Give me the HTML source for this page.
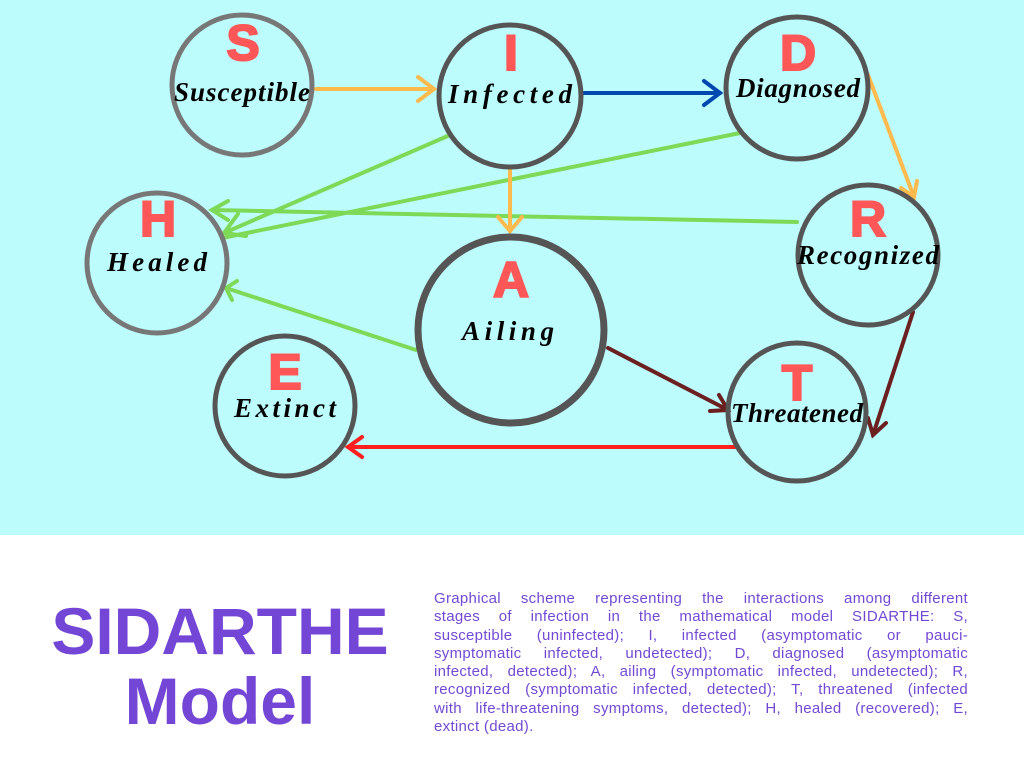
<!DOCTYPE html>
<html><head><meta charset="utf-8"><style>
body{margin:0;width:1024px;height:768px;overflow:hidden;background:#fff;font-family:"Liberation Sans",sans-serif}
#top{position:absolute;left:0;top:0;width:1024px;height:535px;background:#bdfcfc}
svg{position:absolute;left:0;top:0}
.t{position:absolute;left:20px;width:400px;text-align:center;color:#7446d6;font-weight:bold;font-size:66px;line-height:70px}
.c{position:absolute;left:434px;top:590px;width:534px;color:#7349d4;font-size:15px;line-height:18.3px;letter-spacing:0.3px}
.c div{text-align:justify;text-align-last:justify;white-space:nowrap;height:18.3px}
.c div.l{text-align-last:left}
</style></head><body>
<div id="top"></div>
<svg width="1024" height="535" viewBox="0 0 1024 535">
<g fill="none" stroke-width="4" stroke-linecap="round">
<g stroke="#7ed957">
<line x1="450" y1="135" x2="224" y2="233"/><path d="M238,214 L224,233 L246,236"/>
<line x1="740" y1="133" x2="222" y2="238"/>
<line x1="797" y1="222" x2="212" y2="210"/><path d="M228,201 L212,210 L228,220"/>
<line x1="416" y1="350" x2="226" y2="288"/><path d="M237,281 L226,288 L232,300"/>
</g>
<g stroke="#ffba4d">
<line x1="316" y1="89" x2="434" y2="89"/><path d="M418,77 L434,89 L418,101"/>
<line x1="510" y1="170" x2="510" y2="231"/><path d="M498,217 L510,231 L522,217"/>
<line x1="868" y1="75" x2="914" y2="197"/><path d="M901,188 L914,197 L917,181"/>
</g>
<line stroke="#0048b0" x1="584" y1="93" x2="720" y2="93"/><path stroke="#0048b0" d="M704,81 L720,93 L704,105"/>
<g stroke="#6b1f1f">
<line x1="608" y1="348" x2="728" y2="410"/><path d="M710,411 L728,410 L719,395"/>
<line x1="913" y1="312" x2="873" y2="435"/><path d="M868,418 L873,435 L886,423"/>
</g>
<line stroke="#ff1f1f" x1="738" y1="447" x2="348" y2="447"/><path stroke="#ff1f1f" d="M362,437 L348,447 L362,457"/>
</g>
<g fill="none" stroke-width="5">
<circle cx="242" cy="85" r="70" stroke="#777"/>
<circle cx="510" cy="96" r="71" stroke="#555"/>
<circle cx="797" cy="88" r="71" stroke="#555"/>
<circle cx="157" cy="263" r="70" stroke="#777"/>
<circle cx="868" cy="255" r="70" stroke="#555"/>
<circle cx="511" cy="330" r="93" stroke="#555" stroke-width="7"/>
<circle cx="285" cy="406" r="70" stroke="#555"/>
<circle cx="797" cy="412" r="69" stroke="#555"/>
</g>
<g fill="#ff5757" stroke="#ff5757" stroke-width="2" font-family="Liberation Sans,sans-serif" font-weight="bold" font-size="50" text-anchor="middle">
<text x="243" y="60">S</text><text x="511" y="70">I</text><text x="798" y="70">D</text>
<text x="158" y="236">H</text><text x="868" y="236">R</text><text x="511" y="297">A</text>
<text x="285" y="389">E</text><text x="797" y="400">T</text>
</g>
<g fill="#000" font-family="Liberation Serif,serif" font-style="italic" font-weight="bold" font-size="27" text-anchor="middle">
<text x="242" y="101" textLength="136">Susceptible</text>
<text x="510" y="103" textLength="124">Infected</text>
<text x="798" y="97" textLength="124">Diagnosed</text>
<text x="157" y="271" textLength="100">Healed</text>
<text x="868" y="264" textLength="142">Recognized</text>
<text x="508" y="340" textLength="92">Ailing</text>
<text x="285" y="417" textLength="102">Extinct</text>
<text x="797" y="422" textLength="132">Threatened</text>
</g>
</svg>
<div class="t" style="top:596px">SIDARTHE</div>
<div class="t" style="top:666px">Model</div>
<div class="c">
<div>Graphical scheme representing the interactions among different</div>
<div>stages of infection in the mathematical model SIDARTHE: S,</div>
<div>susceptible (uninfected); I, infected (asymptomatic or pauci-</div>
<div>symptomatic infected, undetected); D, diagnosed (asymptomatic</div>
<div>infected, detected); A, ailing (symptomatic infected, undetected); R,</div>
<div>recognized (symptomatic infected, detected); T, threatened (infected</div>
<div>with life-threatening symptoms, detected); H, healed (recovered); E,</div>
<div class="l">extinct (dead).</div>
</div>
</body></html>
